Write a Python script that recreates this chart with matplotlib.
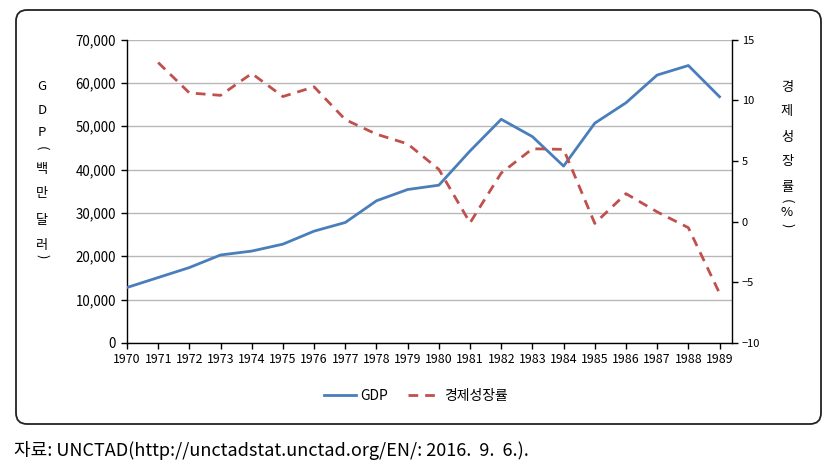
import matplotlib
matplotlib.use("Agg")
import matplotlib.pyplot as plt
from matplotlib.patches import FancyBboxPatch
from matplotlib.ticker import FuncFormatter, MultipleLocator

plt.rcParams['font.family'] = ['Noto Sans CJK KR', 'DejaVu Sans']

years = list(range(1970, 1990))
gdp = [12800, 15100, 17400, 20300, 21200, 22800, 25800, 27800, 32800, 35400,
       36400, 44300, 51600, 47600, 40800, 50700, 55400, 61800, 64000, 56800]
growth_years = list(range(1971, 1990))
growth = [13.1, 10.6, 10.4, 12.2, 10.3, 11.1, 8.4, 7.2, 6.4, 4.3,
          -0.1, 4.0, 6.0, 5.95, -0.15, 2.3, 0.8, -0.5, -5.9]

blue = '#4a7ebb'
red = '#c0504d'

W, H = 837, 474
fig = plt.figure(figsize=(W / 100, H / 100), dpi=100)

# rounded outer frame (pixel coords)
frame = FancyBboxPatch((16, H - 424), 805, 414, boxstyle="round,pad=0,rounding_size=11",
                       transform=None, fill=False, edgecolor='#222222', linewidth=1.3)
fig.patches.append(frame)

ax = fig.add_axes([127 / W, 1 - 343 / H, (732 - 127) / W, (343 - 39.5) / H])
ax2 = ax.twinx()

ax.plot(years, gdp, color=blue, linewidth=2.0, label='GDP', zorder=3)
ax2.plot(growth_years, growth, color=red, linewidth=2.0, dashes=(3.5, 2.5), label='경제성장률')

ax.set_xlim(1970, 1989.4)
ax.set_ylim(0, 70000)
ax2.set_ylim(-10, 15)
ax.set_xticks(years)
ax.set_xticklabels([str(y) for y in years], fontsize=8.9)
ax.yaxis.set_major_locator(MultipleLocator(10000))
ax.yaxis.set_major_formatter(FuncFormatter(lambda v, p: f'{int(v):,}'))
ax2.yaxis.set_major_locator(MultipleLocator(5))
ax.tick_params(axis='y', labelsize=9.6, length=4, width=1, pad=4)
ax.tick_params(axis='x', length=4, width=1, pad=3)
ax2.tick_params(axis='y', labelsize=8, length=4, width=1, pad=3)

ax.grid(axis='y', color='#b8b8b8', linewidth=1)
ax.set_axisbelow(True)
for a in (ax, ax2):
    a.spines['top'].set_visible(False)
    for s in ('left', 'right', 'bottom'):
        a.spines[s].set_color('black')
        a.spines[s].set_linewidth(1)
ax.spines['right'].set_visible(False)
ax2.spines['left'].set_visible(False)
ax2.spines['bottom'].set_visible(False)

# vertical stacked axis labels (parentheses turned sideways)
left_chars = ['G', 'D', 'P', '(', '백', '만', '달', '러', ')']
left_y = [87, 110, 133, 148, 169, 194, 221, 246, 256]
for ch, yy in zip(left_chars, left_y):
    rot = -90 if ch in '()' else 0
    fig.text(42 / W, 1 - yy / H, ch, fontsize=9.5, ha='center', va='center', rotation=rot)
right_chars = ['경', '제', '성', '장', '률', '(', '%', ')']
right_y = [87, 111, 137, 162, 187, 201, 213, 225]
for ch, yy in zip(right_chars, right_y):
    rot = -90 if ch in '()' else 0
    fig.text(787 / W, 1 - yy / H, ch, fontsize=9.5, ha='center', va='center', rotation=rot)

h1, l1 = ax.get_legend_handles_labels()
h2, l2 = ax2.get_legend_handles_labels()
fig.legend(h1 + h2, l1 + l2, loc='center', bbox_to_anchor=(416 / W, 1 - 396 / H), ncol=2,
           frameon=False, fontsize=10, handlelength=2.3, columnspacing=1.5, handletextpad=0.3)

fig.text(14 / W, 1 - 451 / H, '자료: UNCTAD(http://unctadstat.unctad.org/EN/: 2016.  9.  6.).',
         fontsize=13, ha='left', va='center')

fig.savefig('out.png', dpi=100)
